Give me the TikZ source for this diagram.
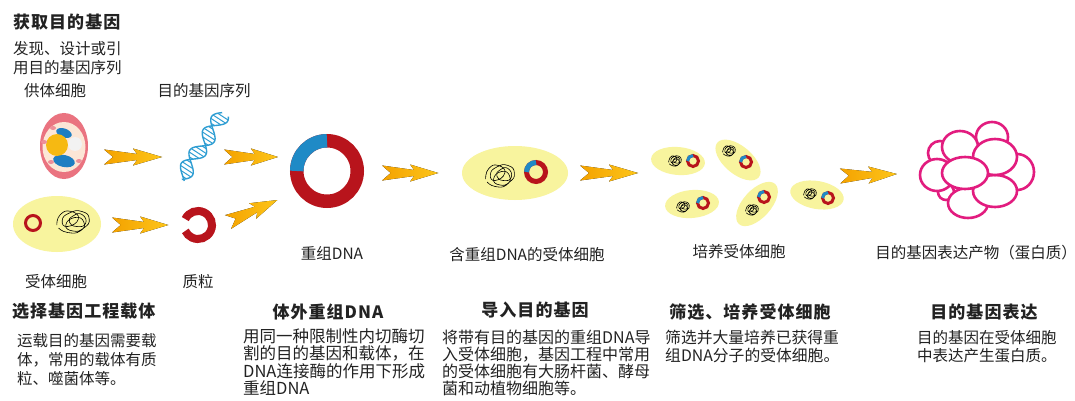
\documentclass[tikz,border=0pt]{standalone}
\usepackage{fontspec}
\setmainfont{Noto Sans CJK SC}
\usepackage{tikz}
\usetikzlibrary{calc}

\definecolor{arrowA}{HTML}{F4A200}
\definecolor{arrowB}{HTML}{FDC51A}
\definecolor{cellyellow}{HTML}{F8F49E}
\definecolor{ringred}{HTML}{B8141C}
\definecolor{ringblue}{HTML}{1F8AC6}
\definecolor{helixblue}{HTML}{2F9ED3}
\definecolor{protein}{HTML}{E21C7F}
\definecolor{donorpink}{HTML}{EA7380}
\definecolor{donorpeach}{HTML}{FCE6D6}
\definecolor{nucleus}{HTML}{F6B912}
\definecolor{organelle}{HTML}{1E7EC2}
\definecolor{txt}{HTML}{222222}

\tikzset{
  pics/fwdarrow/.style={code={
    \fill[left color=arrowA, right color=arrowB]
      (0,-7.5) -- (33,-3) -- (29,-8.5) -- (58,0) -- (29,8.5) -- (33,3) -- (0,7.5) -- (9,0) -- cycle;
  }},
  pics/dnaring/.style args={#1/#2}{code={
    \draw[line width=#2, ringred] (0,0) circle (#1);
    \draw[line width=#2, ringblue] (180:#1) arc (180:270:#1);
  }},
  % loose chromosome scribble
  pics/tangle/.style={code={
    \draw[line width=0.6pt, line join=round] plot[smooth, tension=1] coordinates {
      (-9,2) (-7,-5) (-1,-7) (3,-2) (-3,3) (-6,-1) (-2,-6) (5,-7) (9,-2)
      (6,4) (0,6) (-4,2) (1,-3) (6,0) (4,6) (-3,7) (-8,4)};
    \draw[line width=0.6pt] plot[smooth cycle, tension=1] coordinates {
      (0,-4) (5,-5) (7,1) (2,3) (-2,0)};
  }},
}

\begin{document}
\begin{tikzpicture}[x=1pt, y=-1pt,
    ttl/.style={font=\fontsize{17}{19}\selectfont\bfseries\addfontfeatures{LetterSpace=6}, text=txt, inner sep=0, anchor=west},
    desc/.style={font=\fontsize{15.5}{19}\selectfont, text=txt, align=left, inner sep=0, anchor=north west},
    lbl/.style={font=\fontsize{15.5}{17}\selectfont, text=txt, inner sep=0},
    protblob/.style={draw=protein, line width=2.6pt, fill=white}]
  \fill[white] (0,0) rectangle (1075,401);
  \useasboundingbox (0,0) rectangle (1075,401);

  % headings and notes
  \node[ttl] (gettitle) at (13,22) {获取目的基因};
  \node[desc] (getdesc) at (13,41) {发现、设计或引\\用目的基因序列};
  \node[lbl] (donorlbl) at (55,91) {供体细胞};
  \node[lbl] (seqlbl) at (204,91) {目的基因序列};
  \node[lbl] (recvlbl) at (56,282) {受体细胞};
  \node[lbl] (plasmidlbl) at (198,282) {质粒};
  \node[lbl] (recdnalbl) at (332,253) {重组DNA};
  \node[lbl] (hostlbl) at (527,255) {含重组DNA的受体细胞};
  \node[lbl] (culturelbl) at (739,252) {培养受体细胞};
  \node[lbl] (productlbl) at (976,253) {目的基因表达产物（蛋白质）};

  \node[ttl] (vectitle) at (12,311) {选择基因工程载体};
  \node[desc] (vecdesc) at (17,333) {运载目的基因需要载\\体，常用的载体有质\\粒、噬菌体等。};
  \node[ttl, anchor=center] (rectitle) at (328,312) {体外重组DNA};
  \node[desc, font=\fontsize{16.5}{17.5}\selectfont] (recdesc) at (243,328)
    {用同一种限制性内切酶切\\割的目的基因和载体，在\\DNA连接酶的作用下形成\\重组DNA};
  \node[ttl, anchor=center] (intitle) at (535,310) {导入目的基因};
  \node[desc, font=\fontsize{16}{17}\selectfont] (indesc) at (442,330)
    {将带有目的基因的重组DNA导\\入受体细胞，基因工程中常用\\的受体细胞有大肠杆菌、酵母\\菌和动植物细胞等。};
  \node[ttl, anchor=center] (seltitle) at (750,312) {筛选、培养受体细胞};
  \node[desc, font=\fontsize{15.8}{18}\selectfont] (seldesc) at (665,330) {筛选并大量培养已获得重\\组DNA分子的受体细胞。};
  \node[ttl, anchor=center] (exptitle) at (984,312) {目的基因表达};
  \node[desc, font=\fontsize{15.5}{18}\selectfont] (expdesc) at (917,330) {目的基因在受体细胞\\中表达产生蛋白质。};

  % donor cell
  \fill[donorpink] (64,146) ellipse (24 and 33);
  \fill[donorpeach] (64,147) ellipse (21.5 and 25);
  \fill[organelle, rotate around={-20:(64,133)}] (64,133) ellipse (8 and 4.5);
  \fill[organelle, rotate around={-12:(64,161)}] (64,161) ellipse (11 and 6);
  \fill[nucleus] (57,145) circle (11);
  \fill[gray!10] (75,144) circle (7);
  \foreach \sx/\sy in {44/142, 53/128, 51/162, 79/161}
    \fill[donorpink!80] (\sx,\sy) ellipse (3 and 2);

  % gene sequence
  \begin{scope}[shift={(202,146)}, rotate=57, helixblue, line width=1.4pt]
    \draw plot[domain=-39:39, samples=70, smooth] (\x, {8*sin(9*\x)});
    \draw plot[domain=-39:39, samples=70, smooth] (\x, {8*sin(9*\x+140)});
    \foreach \t in {-36,-32,...,38}
      \draw[line width=1pt] (\t, {8*sin(9*\t)}) -- (\t, {8*sin(9*\t+140)});
  \end{scope}

  % recipient cell and plasmid
  \fill[cellyellow] (57,224) ellipse (44 and 28);
  \draw[ringred, line width=3pt] (33,223) circle (7.5);
  \pic[xscale=1.8, yscale=1.5] at (73,222) {tangle};
  \draw[ringred, line width=8pt] ([shift={(-155:14)}]198,225) arc (-155:155:14);

  % recombinant DNA
  \pic at (327,171) {dnaring={30.25/13.5}};

  % host cell with recombinant DNA
  \fill[cellyellow] (515,173) ellipse (53 and 27);
  \pic[xscale=1.6, yscale=1.5] at (500,176) {tangle};
  \pic at (536,172) {dnaring={9.5/5}};

  % cultured cells
  \foreach \cx/\cy/\ang/\tx/\ty/\ringx/\ringy in {
      678/161/-5/675/161/693/161,
      738/160/-40/729/151/746/162,
      692/204/5/683/207/703/203,
      757/204/48/752/210/764/197,
      817/195/-10/810/194/828/198} {
    \fill[cellyellow, rotate around={\ang:(\cx,\cy)}] (\cx,\cy) ellipse (27 and 14);
    \pic[scale=0.7] at (\tx,\ty) {tangle};
    \pic at (\ringx,\ringy) {dnaring={5.5/3}};
  }

  % expressed protein
  \foreach \ex/\ey/\ea/\eb in {992/137/16/15, 940/153/12/12, 1017/172/17/18,
      946/192/8/8, 937/175/17/16, 960/147/18/16, 968/203/20/15,
      995/191/22/16, 995/157/22/18, 965/173/23/16}
    \draw[protblob] (\ex,\ey) ellipse ({\ea} and {\eb});

  % flow arrows
  \pic at (104,157) {fwdarrow};
  \pic[xscale=0.93] at (224,157) {fwdarrow};
  \pic[xscale=0.97] at (112,225) {fwdarrow};
  \pic[rotate=24, xscale=0.93] at (228,222) {fwdarrow};
  \pic[xscale=0.97] at (382,173) {fwdarrow};
  \pic at (580,173) {fwdarrow};
  \pic[rotate=2, xscale=0.98] at (840,176) {fwdarrow};
\end{tikzpicture}
\end{document}
